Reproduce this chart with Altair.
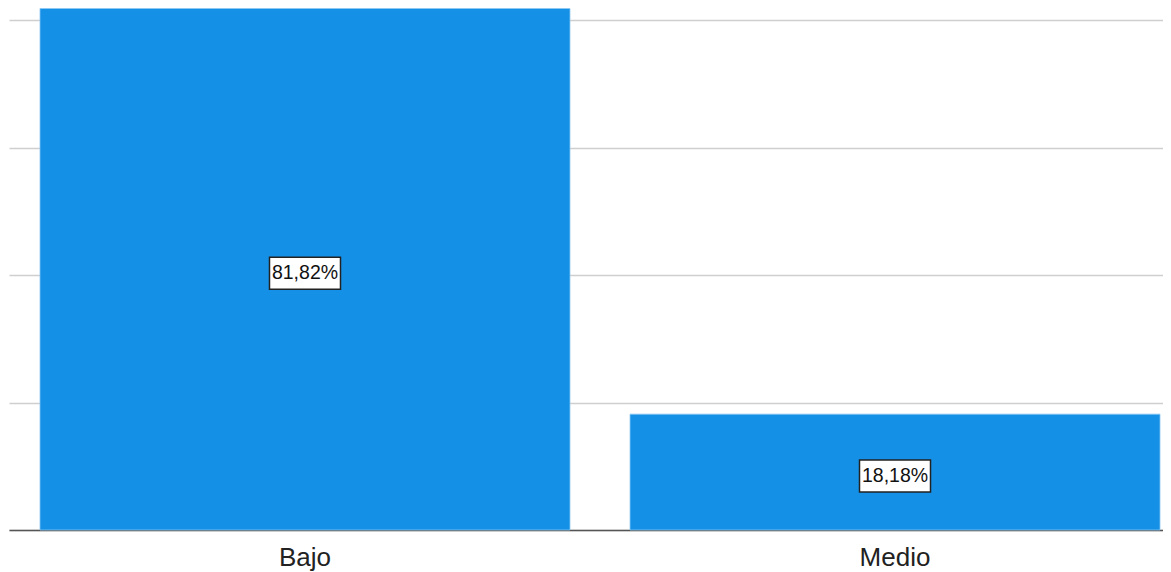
import altair as alt
import pandas as pd

categories = ["Bajo", "Medio"]
values = [81.82, 18.18]
labels = ["81,82%", "18,18%"]

df = pd.DataFrame({"cat": categories, "val": values, "lab": labels})
df["mid"] = df["val"] / 2

FONT = "Liberation Sans"
BAR = "#1491E7"

xenc = alt.X(
    "cat:N",
    sort=categories,
    title=None,
    scale=alt.Scale(paddingInner=0.1017, paddingOuter=0.0288, align=0.912),
    axis=alt.Axis(
        labelAngle=0, labelFontSize=26, labelFont=FONT, labelColor="#222222",
        ticks=False, domainColor="#555555", domainWidth=1.5, labelPadding=14,
        labelBaseline="top",
    ),
)

bars = alt.Chart(df).mark_bar(color=BAR, stroke="#8cc8f2", strokeWidth=0.8).encode(
    x=xenc,
    y=alt.Y(
        "val:Q",
        title=None,
        scale=alt.Scale(domain=[0, 81.9], nice=False),
        axis=alt.Axis(
            values=[0, 20, 40, 60, 80], labels=False, ticks=False, domain=False,
            grid=True, gridColor="#cfcfcf", gridWidth=1.5,
        ),
    ),
)

boxes = alt.Chart(df).mark_point(
    shape="M-1,-0.4507L1,-0.4507L1,0.4507L-1,0.4507Z",
    size=5041, filled=False, fill="white", fillOpacity=1, stroke="#222222",
    strokeWidth=1.5, opacity=1, yOffset=4,
).encode(x=alt.X("cat:N", sort=categories), y="mid:Q")

texts = alt.Chart(df).mark_text(
    font=FONT, fontSize=19.5, color="#111111", baseline="middle", align="center", yOffset=4,
).encode(x=alt.X("cat:N", sort=categories), y="mid:Q", text="lab:N")

chart = alt.layer(bars, boxes, texts).properties(
    width=1154, height=522,
    background="white",
    autosize=alt.AutoSizeParams(type="none"),
    padding={"left": 1, "top": 0, "right": 0, "bottom": 42},
).configure_view(stroke=None)

chart.save("out.html", embed_options={"renderer": "svg", "actions": False})
